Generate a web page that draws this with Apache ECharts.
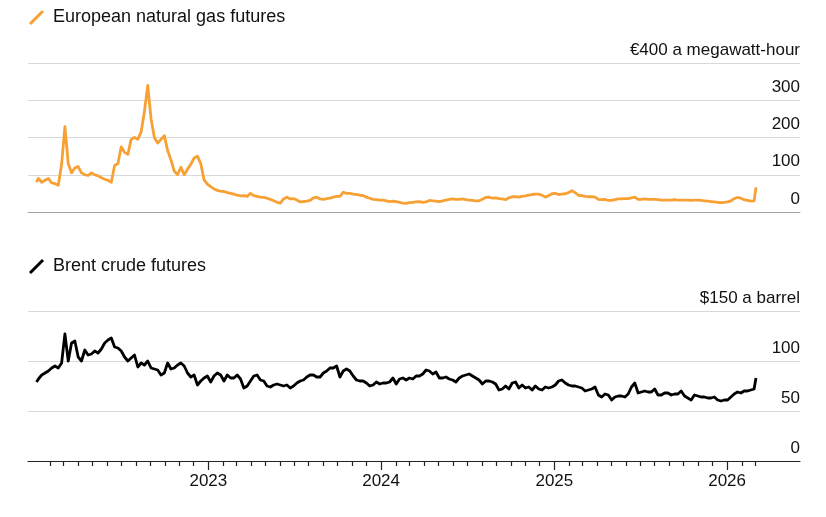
<!DOCTYPE html>
<html><head><meta charset="utf-8">
<script src="https://cdn.jsdelivr.net/npm/echarts@6/dist/echarts.min.js"></script>
<style>html,body{margin:0;padding:0;background:#fff}#c{width:826px;height:517px}</style>
</head><body><div id="c"></div>
<script>
// European natural gas futures, EUR/MWh (weekly readings: 2022-01-03, then Fridays, then 2026-03-03)
const gas2022 = [80,90,80,85,90, 78,76,72,128, 229,130,105,118, 122,105,100,98,105, 100,97,92,88, 85,80,125,130, 175,160,155,195,200, 195,215,270,340, 250,200,185,195,205, 165,140,110,100, 120,100,115,128, 145,150,130,86,75];
const gas2023 = [68,62,58,56, 55,52,50,48, 45,43,44,42,50, 44,42,40,39, 37,34,30,26, 24,35,40,35,36, 32,27,28,29, 31,38,40,35, 34,36,37,40,42, 42,53,50,50, 48,47,45,44, 40,37,34,33,32];
const gas2024 = [32,30,28,29, 28,26,24,23, 25,26,27,28,26, 27,31,30,29, 28,30,32,34,35, 34,34,35,33, 32,31,30,30, 34,39,40,37,38, 36,35,33,38, 41,41,40,42, 43,45,47,48,48, 45,40,44,49];
const gas2025 = [50,47,48,49,52, 57,52,45,44, 42,41,41,40, 34,33,34,31, 31,33,35,35,36, 36,38,40,34, 34,35,34,34, 34,33,32,32,32, 32,33,32,32, 32,32,31,32,32, 31,30,29,28, 27,26,25,26];
const gas2026 = [27,30,36,39,37,33,31,29,30,66];

// Brent crude futures, USD/barrel (same dates)
const oil2022 = [79,82,86,88,90, 93,95,93,98, 127,100,118,120, 104,100,111,106,107, 110,108,112,118, 121,123,114,113, 110,104,100,103,106, 94,98,96,100, 93,92,91,86,88, 98,92,93,96, 98,95,88,84, 86,76,80,83,85];
const oil2023 = [79,85,88,86, 80,86,83,83, 86,82,73,75,80, 85,86,81,80, 75,74,76,77, 76,75,76,73,75, 78,80,81,84, 86,86,84,84, 88,90,93,93,95, 84,90,92,90, 85,81,80,80, 78,75,76,79,77];
const oil2024 = [78,78,79,83, 77,82,83,81, 83,82,85,85,87, 91,90,87,89, 83,83,84,82,81, 79,83,85,86, 87,85,83,81, 77,80,80,79,77, 71,72,75,72, 78,79,73,76, 73,74,71,75,72, 71,74,73,74];
const oil2025 = [76,80,81,78,76, 75,75,74,73, 70,71,72,74, 66,64,67,66, 61,64,65,65,64, 67,74,78,68, 69,70,69,69, 72,66,66,68,68, 66,67,67,70, 65,63,61,66,65, 64,64,63,63, 64,61,60,61];
const oil2026 = [61,64,67,69,68,70,70,71,72,83];

const gasTitle = 'European natural gas futures';
const oilTitle = 'Brent crude futures';
const gasTopLabel = '€400 a megawatt-hour';
const oilTopLabel = '$150 a barrel';
const yearLabels = [2023, 2024, 2025, 2026];

const DAY = 86400000;
function buildDates() {
  const out = [Date.UTC(2022, 0, 3)];
  for (let t = Date.UTC(2022, 0, 7); t <= Date.UTC(2026, 1, 27); t += 7 * DAY) out.push(t);
  out.push(Date.UTC(2026, 2, 3));
  return out;
}
const dates = buildDates();
const gasValues = [].concat(gas2022, gas2023, gas2024, gas2025, gas2026);
const oilValues = [].concat(oil2022, oil2023, oil2024, oil2025, oil2026);
const gasData = dates.map((d, i) => [d, gasValues[i]]);
const oilData = dates.map((d, i) => [d, oilValues[i]]);

const monthTicks = [];
for (let y = 2022, m = 1; y < 2026 || (y === 2026 && m <= 2); ) {
  if (m !== 0) monthTicks.push(Date.UTC(y, m, 1));
  m++; if (m === 12) { m = 0; y++; }
}
const yearTicks = yearLabels.map(y => Date.UTC(y, 0, 1));

const X_MIN = Date.UTC(2021, 11, 16);
const X_MAX = Date.UTC(2026, 5, 4);
const ORANGE = '#f7a034';
const FONT = '"Liberation Sans", Arial, sans-serif';
const TXT = '#111';

const chart = echarts.init(document.getElementById('c'), null, { renderer: 'canvas' });

function yLabel(topText, topVal) {
  return {
    inside: true, margin: 0, verticalAlign: 'bottom', lineHeight: 20, padding: [0, 0, 3, 0],
    fontSize: 17, color: TXT, fontFamily: FONT,
    formatter: v => (v === topVal ? topText : String(v))
  };
}

chart.setOption({
  animation: false,
  textStyle: { fontFamily: FONT },
  title: [
    { text: gasTitle, left: 53, top: 8, padding: 0, textStyle: { fontSize: 18, fontWeight: 'normal', color: TXT, fontFamily: FONT } },
    { text: oilTitle, left: 53, top: 257, padding: 0, textStyle: { fontSize: 18, fontWeight: 'normal', color: TXT, fontFamily: FONT } }
  ],
  graphic: [
    { type: 'line', shape: { x1: 30, y1: 24, x2: 43, y2: 11 }, style: { stroke: ORANGE, lineWidth: 3 } },
    { type: 'line', shape: { x1: 30, y1: 273, x2: 43, y2: 260 }, style: { stroke: '#000', lineWidth: 3 } }
  ],
  grid: [
    { left: 28, right: 26, top: 63, height: 149 },
    { left: 28, right: 26, top: 311, height: 150 }
  ],
  xAxis: [
    { gridIndex: 0, type: 'value', min: X_MIN, max: X_MAX, position: 'bottom',
      axisLine: { show: true, onZero: false, lineStyle: { color: '#a6a6a6', width: 1 } },
      axisTick: { show: false }, axisLabel: { show: false }, splitLine: { show: false } },
    { gridIndex: 1, type: 'value', min: X_MIN, max: X_MAX, position: 'bottom',
      axisLine: { show: true, onZero: false, lineStyle: { color: '#222', width: 1.2 } },
      axisTick: { show: true, length: 9, customValues: yearTicks, lineStyle: { color: '#222', width: 1.2 } },
      axisLabel: { show: true, customValues: yearTicks, margin: 12, fontSize: 17, color: TXT, fontFamily: FONT,
        formatter: v => String(new Date(v).getUTCFullYear()) },
      splitLine: { show: false } },
    { gridIndex: 1, type: 'value', min: X_MIN, max: X_MAX, position: 'bottom',
      axisLine: { show: false, onZero: false },
      axisTick: { show: true, length: 5, customValues: monthTicks, lineStyle: { color: '#222', width: 1.2 } },
      axisLabel: { show: false }, splitLine: { show: false } }
  ],
  yAxis: [
    { gridIndex: 0, type: 'value', min: 0, max: 400, interval: 100, position: 'right',
      axisLine: { show: false }, axisTick: { show: false },
      splitLine: { show: true, lineStyle: { color: '#d9d9d9', width: 1 } },
      axisLabel: yLabel(gasTopLabel, 400) },
    { gridIndex: 1, type: 'value', min: 0, max: 150, interval: 50, position: 'right',
      axisLine: { show: false }, axisTick: { show: false },
      splitLine: { show: true, lineStyle: { color: '#d9d9d9', width: 1 } },
      axisLabel: yLabel(oilTopLabel, 150) }
  ],
  series: [
    { name: gasTitle, type: 'line', xAxisIndex: 0, yAxisIndex: 0, data: gasData, showSymbol: false,
      lineStyle: { color: ORANGE, width: 2.8, join: 'round' }, itemStyle: { color: ORANGE }, z: 5 },
    { name: oilTitle, type: 'line', xAxisIndex: 1, yAxisIndex: 1, data: oilData, showSymbol: false,
      lineStyle: { color: '#000', width: 2.8, join: 'round' }, itemStyle: { color: '#000' }, z: 5 }
  ]
});
</script></body></html>
